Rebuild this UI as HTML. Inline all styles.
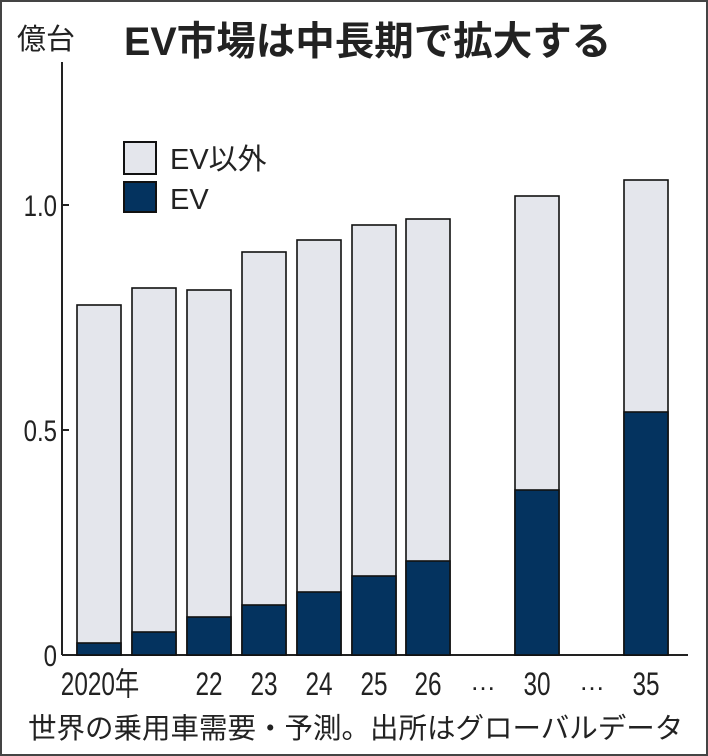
<!DOCTYPE html>
<html><head><meta charset="utf-8"><style>
html,body{margin:0;padding:0;background:#fff}
svg{display:block}
text{font-family:"Liberation Sans","Noto Sans CJK JP",sans-serif;fill:#222}
</style></head><body>
<svg width="708" height="756" viewBox="0 0 708 756">
<rect x="1" y="1" width="706" height="754" fill="#fff" stroke="#444" stroke-width="2"/>
<text x="17" y="49" font-size="29">億台</text>
<text x="124" y="55" font-size="39.5" font-weight="bold" fill="#1a1a1a">EV市場は中長期で拡大する</text>
<g stroke="#222" stroke-width="2">
<line x1="62" y1="62" x2="62" y2="655"/>
<line x1="62" y1="655" x2="688" y2="655"/>
<line x1="62" y1="205" x2="69" y2="205"/>
<line x1="62" y1="430" x2="69" y2="430"/>
</g>
<g font-size="30">
<text x="57" y="216" text-anchor="end" transform="translate(57 0) scale(0.8 1) translate(-57 0)">1.0</text>
<text x="57" y="441" text-anchor="end" transform="translate(57 0) scale(0.8 1) translate(-57 0)">0.5</text>
<text x="57" y="666" text-anchor="end" transform="translate(57 0) scale(0.8 1) translate(-57 0)">0</text>
</g>
<g stroke="#111" stroke-width="2">
<rect x="124" y="142" width="32" height="32" fill="#e4e6ec"/>
<rect x="124" y="182" width="32" height="30" fill="#04335f"/>
</g>
<text x="170" y="169" font-size="29">EV以外</text>
<text x="170" y="209" font-size="29">EV</text>
<g stroke="#111" stroke-width="1.6">
<rect x="77" y="305" width="44" height="350" fill="#e4e6ec"/><rect x="77" y="643" width="44" height="12" fill="#04335f"/>
<rect x="132" y="288" width="44" height="367" fill="#e4e6ec"/><rect x="132" y="632" width="44" height="23" fill="#04335f"/>
<rect x="187" y="290" width="44" height="365" fill="#e4e6ec"/><rect x="187" y="617" width="44" height="38" fill="#04335f"/>
<rect x="242" y="252" width="44" height="403" fill="#e4e6ec"/><rect x="242" y="605" width="44" height="50" fill="#04335f"/>
<rect x="297" y="240" width="44" height="415" fill="#e4e6ec"/><rect x="297" y="592" width="44" height="63" fill="#04335f"/>
<rect x="352" y="225" width="44" height="430" fill="#e4e6ec"/><rect x="352" y="576" width="44" height="79" fill="#04335f"/>
<rect x="406" y="219" width="44" height="436" fill="#e4e6ec"/><rect x="406" y="561" width="44" height="94" fill="#04335f"/>
<rect x="515" y="196" width="44" height="459" fill="#e4e6ec"/><rect x="515" y="490" width="44" height="165" fill="#04335f"/>
<rect x="624" y="180" width="44" height="475" fill="#e4e6ec"/><rect x="624" y="412" width="44" height="243" fill="#04335f"/>
</g>
<g font-size="32" text-anchor="middle">
<text x="100" y="695" transform="translate(100 0) scale(0.76 1) translate(-100 0)">2020年</text>
<text x="209" y="695" transform="translate(209 0) scale(0.76 1) translate(-209 0)">22</text>
<text x="264" y="695" transform="translate(264 0) scale(0.76 1) translate(-264 0)">23</text>
<text x="319" y="695" transform="translate(319 0) scale(0.76 1) translate(-319 0)">24</text>
<text x="374" y="695" transform="translate(374 0) scale(0.76 1) translate(-374 0)">25</text>
<text x="428" y="695" transform="translate(428 0) scale(0.76 1) translate(-428 0)">26</text>
<text x="483" y="690" font-size="26">…</text>
<text x="537" y="695" transform="translate(537 0) scale(0.76 1) translate(-537 0)">30</text>
<text x="592" y="690" font-size="26">…</text>
<text x="646" y="695" transform="translate(646 0) scale(0.76 1) translate(-646 0)">35</text>
</g>
<text x="28" y="738" font-size="28.5">世界の乗用車需要・予測。出所はグローバルデータ</text>
</svg>
</body></html>
